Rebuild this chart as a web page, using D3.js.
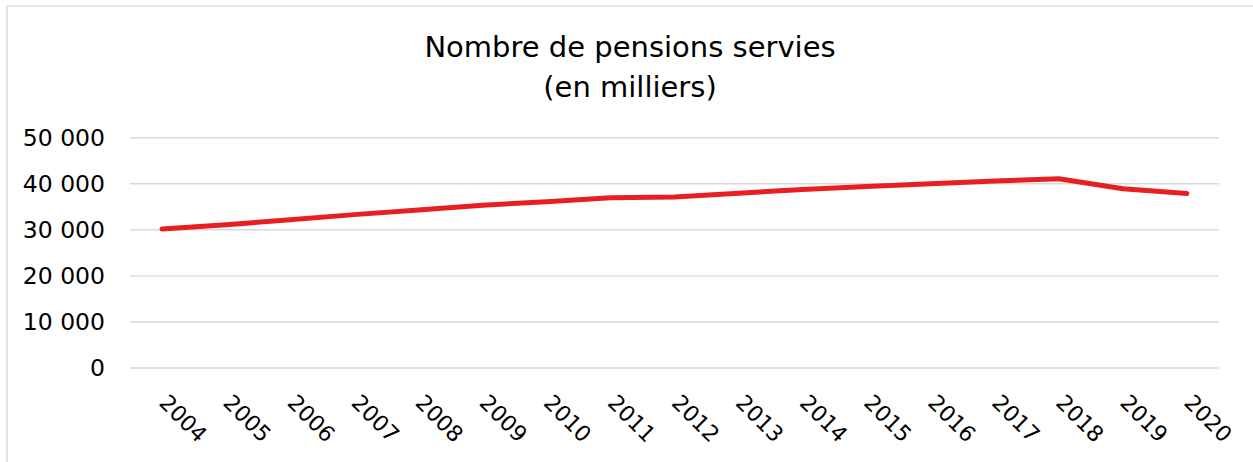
<!DOCTYPE html>
<html>
<head>
<meta charset="utf-8">
<script src="https://cdn.jsdelivr.net/npm/d3@7"></script>
<style>
  html, body { margin: 0; padding: 0; background: #fff; }
  svg text { font-family: "DejaVu Sans", sans-serif; fill: #000; }
</style>
</head>
<body>
<div id="chart"></div>
<script>
// data
let years = ["2004","2005","2006","2007","2008","2009","2010","2011","2012",
             "2013","2014","2015","2016","2017","2018","2019","2020"];
let pensions = [30200,31100,32200,33300,34300,35350,36100,36950,37100,
                37950,38750,39400,40000,40600,41100,38900,37900];
let yTicks = [0,10000,20000,30000,40000,50000];
let titleLines = ["Nombre de pensions servies","(en milliers)"];

(function(){
    let W=1253, H=462;
    let plot = {left:130, right:1219, top:137.7, bottom:368};
    let fr = d3.formatLocale({decimal:",", thousands:" ", grouping:[3], currency:["","€"]});
    let fmt = fr.format(",");

    let svg = d3.select("#chart").append("svg")
        .attr("width",W).attr("height",H);
    svg.append("rect").attr("width",W).attr("height",H).attr("fill","#fff");

    //chart area frame (runs off the right / bottom edges)
    svg.append("rect")
        .attr("x",7).attr("y",6)
        .attr("width",W+20).attr("height",H+20)
        .attr("fill","none").attr("stroke","#d9d9d9").attr("stroke-width",1.3);

    //title
    svg.append("g").selectAll("text").data(titleLines).enter()
        .append("text")
        .attr("x",630)
        .attr("y",function(d,i){return 57+i*40})
        .attr("text-anchor","middle")
        .style("font-size","29px")
        .text(function(d){return d});

    let x = d3.scalePoint().domain(years).range([plot.left,plot.right]).padding(0.5);
    let y = d3.scaleLinear().domain([0,50000]).range([plot.bottom,plot.top]);

    //grid
    svg.append("g").selectAll("line").data(yTicks).enter()
        .append("line")
        .attr("x1",plot.left).attr("x2",plot.right)
        .attr("y1",function(d){return y(d)}).attr("y2",function(d){return y(d)})
        .attr("stroke","#d9d9d9").attr("stroke-width",1.4);

    //y labels
    svg.append("g").selectAll("text").data(yTicks).enter()
        .append("text")
        .attr("x",105)
        .attr("y",function(d){return y(d)})
        .attr("dy","0.36em")
        .attr("text-anchor","end")
        .style("font-size","23.5px")
        .text(function(d){return fmt(d)});

    //x labels, rotated 45deg
    svg.append("g").selectAll("text").data(years).enter()
        .append("text")
        .attr("transform",function(d){return "translate("+(x(d)-4)+",404) rotate(45)"})
        .attr("text-anchor","start")
        .style("font-size","22px")
        .text(function(d){return d});

    //line
    svg.append("path")
        .datum(pensions)
        .attr("fill","none")
        .attr("stroke","#e81e25")
        .attr("stroke-width",5)
        .attr("stroke-linecap","round")
        .attr("stroke-linejoin","round")
        .attr("d", d3.line()
            .x(function(d,i){return x(years[i])})
            .y(function(d){return y(d)}));
})();
</script>
</body>
</html>
